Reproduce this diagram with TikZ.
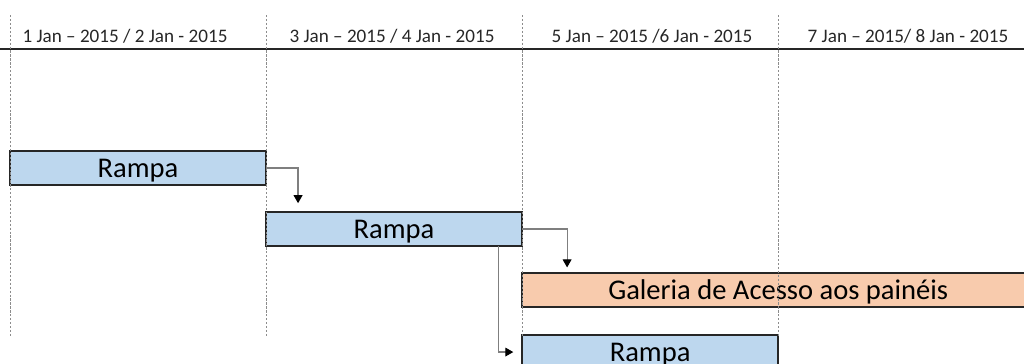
\documentclass[tikz,border=0pt]{standalone}
\usepackage{fontspec}
\setmainfont{Carlito}
\usetikzlibrary{arrows.meta,positioning}
\definecolor{barblue}{HTML}{BDD7EE}
\definecolor{barorange}{HTML}{F8CBAD}
\definecolor{gridgray}{HTML}{8C8C8C}
\definecolor{linkgray}{HTML}{7F7F7F}
\definecolor{edge}{HTML}{262626}

\tikzset{
  task/.style={draw=edge, line width=1.1pt, inner sep=0pt, outer sep=0pt,
    minimum height=0.85cm, text height=0.45cm, text depth=0cm,
    text=black, font=\fontsize{20.3}{24}\selectfont},
  day/.style={anchor=base, text=edge, font=\fontsize{13.6}{16}\selectfont},
  grid/.style={gridgray, line width=0.6pt, dash pattern=on 1.6pt off 1.2pt},
  link/.style={linkgray, line width=0.8pt, ->}
}

\begin{document}
\begin{tikzpicture}[x=0.025cm, y=-0.025cm, >={Triangle[length=2mm, width=2.2mm, color=black]}]
  \useasboundingbox (0,0) rectangle (1024,363);
  \clip (0,0) rectangle (1024,363);

  % day headers
  \node[day] (d12) at (125,42) {1 Jan -- 2015 / 2 Jan - 2015};
  \node[day] (d34) at (392,42) {3 Jan -- 2015 / 4 Jan - 2015};
  \node[day] (d56) at (652,42) {5 Jan -- 2015 /6 Jan - 2015};
  \node[day] (d78) at (908,42) {7 Jan -- 2015/ 8 Jan - 2015};
  \draw[edge, line width=0.8pt] (0,49) -- (1024,49);

  % tasks
  \node[task, fill=barblue, minimum width=6.4cm] (r1) at (138,168) {Rampa};
  \node[task, fill=barblue, minimum width=6.4cm, below right=0.675cm and 0cm of r1] (r2) {Rampa};
  \node[task, fill=barorange, minimum width=12.8cm, below right=0.675cm and 0cm of r2] (gal) {Galeria de Acesso aos painéis};
  \node[task, fill=barblue, minimum width=6.4cm, below right=0.7cm and 0cm of gal.south west] (r3) {Rampa};

  % day separators
  \foreach \x in {10,266,522,778}
    \draw[grid] (\x,15) -- (\x,337);

  % dependencies
  \draw[link, shorten >=0.22cm] (r1.east) -| ([xshift=0.8cm]r2.north west);
  \draw[link, shorten >=0.14cm] (r2.east) -| ([xshift=1.125cm]gal.north west);
  \draw[link, shorten >=0.22cm] ([xshift=-0.59cm]r2.south east) |- (r3.west);
\end{tikzpicture}
\end{document}
